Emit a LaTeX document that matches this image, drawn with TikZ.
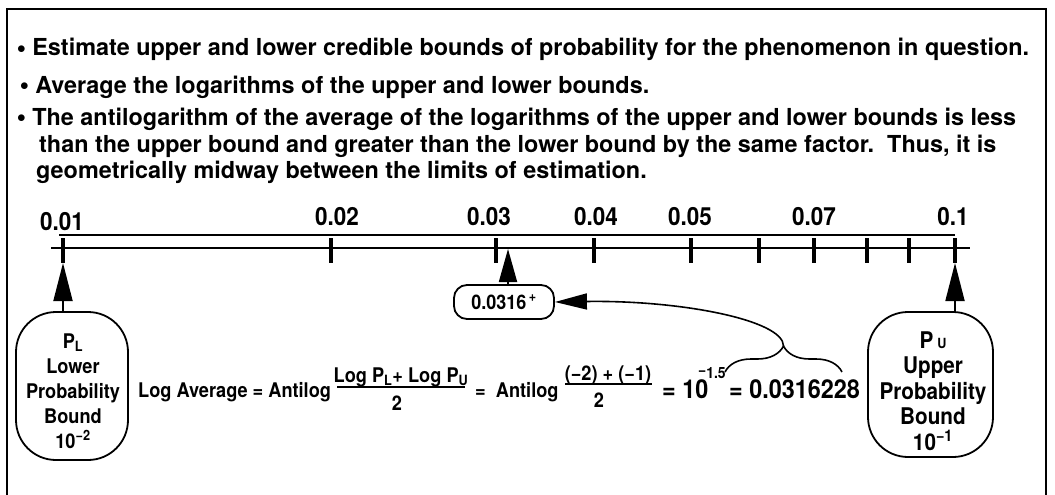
\documentclass[tikz,border=0pt]{standalone}
\usepackage{fontspec}
\setmainfont{TeX Gyre Heros}
\newfontfamily\narrowheros{TeX Gyre Heros}[FakeStretch=0.9]
\usetikzlibrary{arrows.meta,decorations.pathreplacing}

\newcommand{\dotmark}{\raisebox{2.5pt}{\fontsize{16}{16}\selectfont$\bullet$}\hspace{6.5pt}}

\begin{document}
\begin{tikzpicture}[x=1pt, y=1pt, font=\bfseries,
    bullettxt/.style={anchor=base west, inner sep=0pt,
      font=\bfseries\fontsize{23.4}{26}\selectfont},
    ticklbl/.style={inner sep=0pt, font=\narrowheros\bfseries\fontsize{25}{28}\selectfont},
    fmla/.style={anchor=base west, inner sep=0pt,
      font=\narrowheros\bfseries\fontsize{20.2}{24}\selectfont},
    bigfmla/.style={anchor=base west, inner sep=0pt,
      font=\narrowheros\bfseries\fontsize{26}{28}\selectfont},
    boundbox/.style={draw, line width=1.8pt, rounded corners=40pt, inner sep=0pt},
    boundtxt/.style={align=center, inner sep=0pt},
    bigtip/.style={-{Triangle[length=38pt,width=19pt]}, line width=1.8pt},
    midtip/.style={-{Triangle[length=33pt,width=18pt]}, line width=1.8pt},
    curvetip/.style={-{Triangle[length=32pt,width=16pt]}, line width=1.6pt}]
  \useasboundingbox (0,0) rectangle (1055,-495);
  % open frame
  \draw[line width=2.2pt] (7,-495) -- (7,-9) -- (1046,-9) -- (1046,-495);

  % statements
  \node[bullettxt] (stepA) at (17,-56)
    {\dotmark Estimate upper and lower credible bounds of probability for the phenomenon in question.};
  \node[bullettxt] (stepB) at (20,-93)
    {\dotmark Average the logarithms of the upper and lower bounds.};
  \node[bullettxt] (stepC) at (17,-125)
    {\dotmark The antilogarithm of the average of the logarithms of the upper and lower bounds is less};
  \node[bullettxt] (stepCb) at (39,-152)
    {than the upper bound and greater than the lower bound by the same factor.\ \ Thus, it is};
  \node[bullettxt] (stepCc) at (36,-178)
    {geometrically midway between the limits of estimation.};

  % log scale
  \draw[line width=1.4pt] (59,-235) -- (955,-235);
  \draw[line width=2.2pt] (51,-248) -- (970,-248);
  \foreach \tx [count=\i] in {63,331,496,594,691,759,814,867,909,955}
    \draw[line width=4.5pt] (\tx,-238) -- (\tx,-263) coordinate (tk\i);
  \foreach \tx/\ty/\lbl [count=\i] in {62/222/0.01, 337/217/0.02, 489/217/0.03,
      596/217/0.04, 690/217/0.05, 814/217/0.07, 953/217/0.1}
    \node[ticklbl] (tl\i) at (\tx,-\ty) {\lbl};
  \coordinate (avgPt) at (508,-249);

  % bounds
  \node[boundbox, minimum width=112pt, minimum height=148pt] (lowBox) at (72,-386) {};
  \node[boundtxt, font=\narrowheros\bfseries\fontsize{20.2}{25}\selectfont] (lowTxt) at (73,-391)
    {P\textsubscript{L}\\Lower\\Probability\\Bound\\10\textsuperscript{−2}};
  \node[boundbox, minimum width=125pt, minimum height=145pt] (upBox) at (930.5,-384.5) {};
  \node[boundtxt, font=\narrowheros\bfseries\fontsize{23}{25.5}\selectfont] (upTxt) at (933,-391)
    {P\,{\fontsize{14}{14}\selectfont U}\\Upper\\Probability\\Bound\\10\textsuperscript{−1}};
  \node[draw, line width=1.8pt, rounded corners=13pt, minimum width=100pt,
        minimum height=34pt, inner sep=0pt,
        font=\narrowheros\bfseries\fontsize{20}{22}\selectfont] (avgBox) at (504,-302)
    {0.0316\textsuperscript{\,+}};

  \draw[bigtip] (lowBox.north -| tk1) -- (tk1);
  \draw[bigtip] (upBox.north -| tk10) -- (tk10);
  \draw[midtip] (avgBox.north -| avgPt) -- (avgPt);

  % formula
  \node[fmla] (logAvg) at (138,-397) {Log Average = Antilog};
  \node[fmla, anchor=base] (numA) at (401,-382)
    {Log P\textsubscript{L}+ Log P\textsubscript{U}};
  \draw[line width=1.6pt] (337,-387) -- (465,-387);
  \node[fmla, anchor=base] (denA) at (397,-410) {2};
  \node[fmla] (eqB) at (475,-397) {=\ \ Antilog};
  \node[fmla, anchor=base] (numB) at (608,-380) {(−2) + (−1)};
  \draw[line width=1.6pt] (565,-384) -- (652,-384);
  \node[fmla, anchor=base] (denB) at (599,-407) {2};
  \node[bigfmla] (tenPow) at (662,-398) {= 10};
  \node[anchor=base west, inner sep=0pt, font=\narrowheros\bfseries\fontsize{15.5}{16}\selectfont]
    (expo) at (698,-378) {\raisebox{3pt}{−}1.5};
  \node[bigfmla] (result) at (729,-398) {= 0.0316228};

  % brace and link to the mark on the scale
  \draw[decorate, decoration={brace, amplitude=26pt}, line width=1.6pt]
    (725,-372) -- (842,-372);
  \coordinate (braceTip) at (783.5,-346);
  \draw[curvetip] (braceTip) .. controls (783.5,-320) and (680,-300) .. (avgBox.east);
\end{tikzpicture}
\end{document}
